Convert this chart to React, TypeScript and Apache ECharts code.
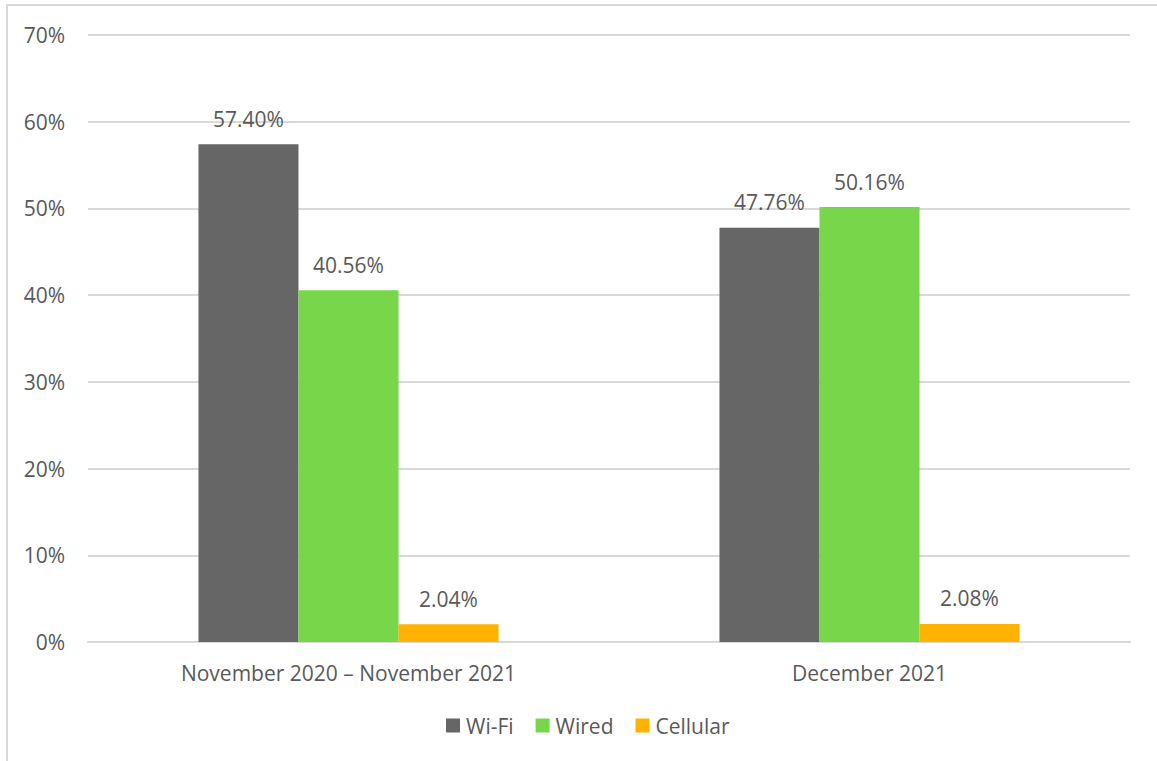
import React, { useEffect, useRef } from "react";
import * as echarts from "echarts";

const categories = ["November 2020 – November 2021", "December 2021"];
const wifi = [57.4, 47.76];
const wired = [40.56, 50.16];
const cellular = [2.04, 2.08];
const yTicks = [0, 10, 20, 30, 40, 50, 60, 70];

const FONT = "'Open Sans', sans-serif";
const TEXT = "#595959";
const FS = 21;

export default function App() {
  const ref = useRef<HTMLDivElement>(null);
  useEffect(() => {
    const chart = echarts.init(ref.current!, null, { renderer: "svg" });
    const label = {
      show: true,
      position: "top" as const,
      distance: 15,
      color: TEXT,
      fontFamily: FONT,
      fontSize: FS,
      formatter: (p: any) => p.value.toFixed(2) + "%",
    };
    const mk = (name: string, data: number[], color: string) => ({
      name,
      type: "bar",
      data,
      barGap: "0%",
      barCategoryGap: "42.4%",
      itemStyle: { color },
      label,
    });
    chart.setOption({
      animation: false,
      textStyle: { fontFamily: FONT },
      graphic: [
        {
          type: "rect",
          shape: { x: 7, y: 5, width: 1160, height: 780 },
          style: { fill: "none", stroke: "#d9d9d9", lineWidth: 2 },
          silent: true,
        },
      ],
      grid: { left: 88, right: 27, top: 35, bottom: 119 },
      legend: {
        data: ["Wi-Fi", "Wired", "Cellular"],
        bottom: 20,
        left: 441,
        itemWidth: 14,
        itemHeight: 14,
        itemGap: 22,
        icon: "rect",
        textStyle: { color: TEXT, fontFamily: FONT, fontSize: FS, padding: [0, 0, 0, 1] },
      },
      xAxis: {
        type: "category",
        data: categories,
        axisLine: { lineStyle: { color: "#d9d9d9", width: 2 } },
        axisTick: { show: false },
        axisLabel: { color: TEXT, fontFamily: FONT, fontSize: FS, margin: 20 },
      },
      yAxis: {
        type: "value",
        min: yTicks[0],
        max: yTicks[yTicks.length - 1],
        interval: 10,
        axisLine: { show: false },
        axisTick: { show: false },
        splitLine: { lineStyle: { color: "#d9d9d9", width: 2 } },
        axisLabel: {
          color: TEXT,
          fontFamily: FONT,
          fontSize: FS,
          margin: 23,
          formatter: (v: number) => v + "%",
        },
      },
      series: [
        mk("Wi-Fi", wifi, "#666666"),
        mk("Wired", wired, "#78d64b"),
        mk("Cellular", cellular, "#ffb300"),
      ],
    });
    return () => chart.dispose();
  }, []);
  return (
    <div
      ref={ref}
      style={{ position: "absolute", left: 0, top: 0, width: 1157, height: 761, background: "#fff" }}
    />
  );
}
